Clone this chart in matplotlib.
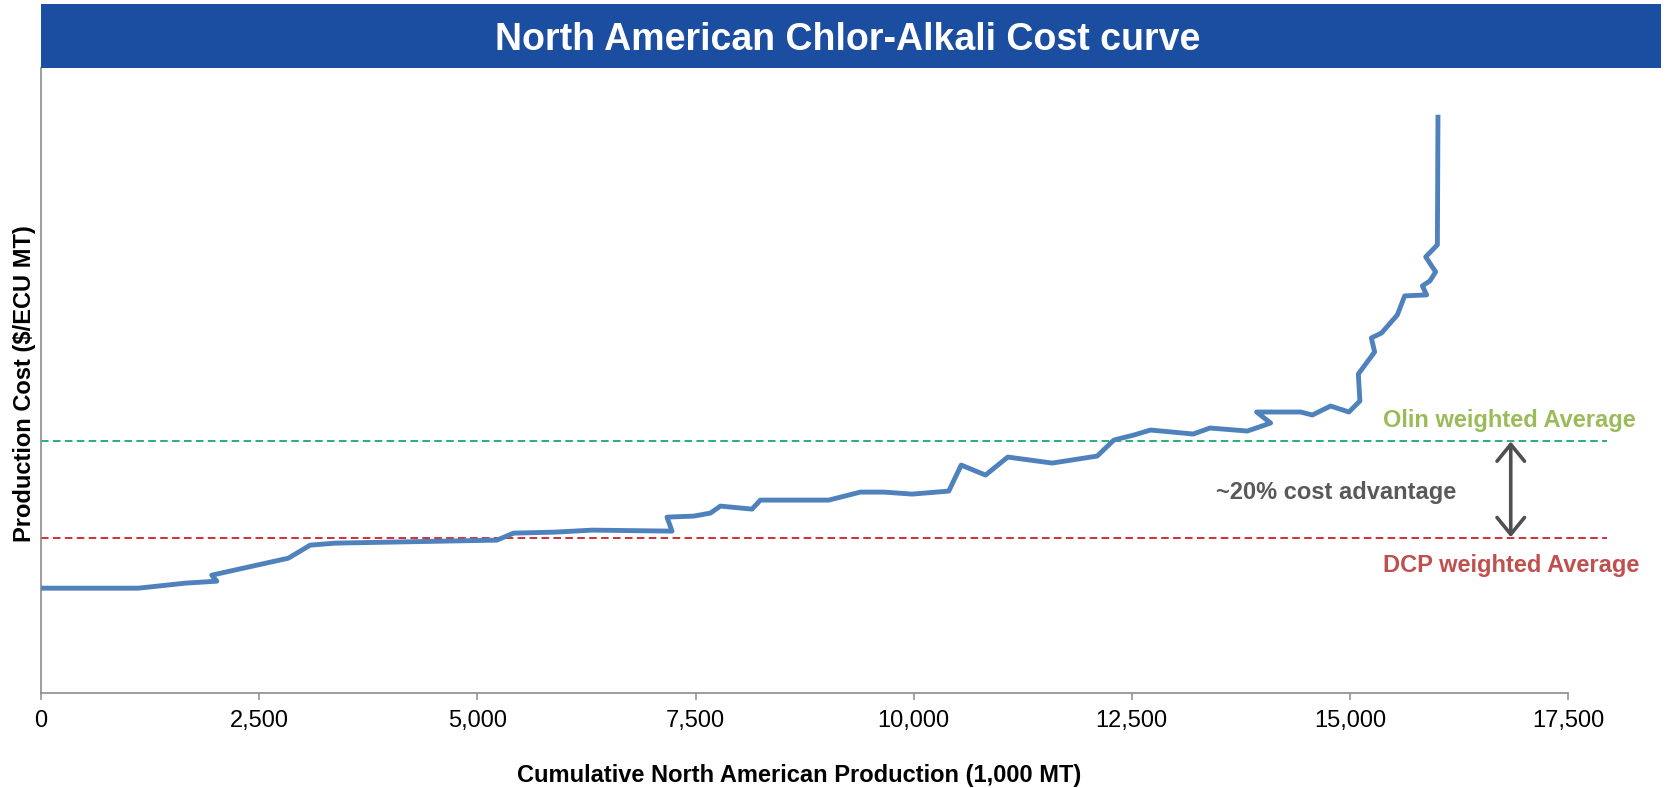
import matplotlib
matplotlib.use("Agg")
import matplotlib.pyplot as plt
from matplotlib.patches import Rectangle, FancyArrowPatch

plt.rcParams['font.family'] = ['Liberation Sans', 'DejaVu Sans']

# Cumulative capacity (1,000 MT) vs. cash cost, plant by plant
cum_production = [0, 1113, 1649, 2013, 1955, 2834, 3083, 3369, 5224, 5414,
                  5890, 6313, 7231, 7173, 7478, 7670, 7785, 8148, 8243, 9027,
                  9390, 9657, 9983, 10403, 10545, 10824, 11079, 11588, 12104, 12295,
                  12524, 12716, 13205, 13396, 13825, 14092, 13931, 14436, 14570, 14779,
                  14989, 15115, 15097, 15284, 15246, 15364, 15544, 15628, 15880, 15831,
                  15918, 15983, 15869, 16003, 16010]
prod_cost = [340, 340, 345, 347, 353, 370, 383, 385, 388, 395,
             396, 398, 397, 411, 412, 415, 422, 419, 428, 428,
             436, 436, 434, 437, 463, 453, 471, 465, 472, 488,
             493, 498, 494, 500, 497, 505, 516, 516, 513, 522,
             516, 527, 554, 576, 590, 595, 613, 632, 633, 642,
             647, 656, 671, 683, 813]

# weighted averages
olin_avg = 487.5
dcp_avg = 390

x_ticks = [0, 2500, 5000, 7500, 10000, 12500, 15000, 17500]
x_tick_labels = ["0", "2,500", "5,000", "7,500", "10,000", "12,500", "15,000", "17,500"]

fig = plt.figure(figsize=(16.67, 7.88), dpi=100)
ax = fig.add_axes([0.0247, 0.1202, 0.9159, 0.7939])

# title banner
fig.patches.append(Rectangle((0.0247, 0.9141), 0.9718, 0.0808, transform=fig.transFigure,
                             facecolor='#1B4DA0', edgecolor='none', zorder=0))
fig.text(0.5087, 0.9365, "North American Chlor-Alkali Cost curve", color='white',
         fontsize=27, fontweight='bold', ha='center', va='baseline')

ax.plot(cum_production, prod_cost, color='#4F81BD', lw=3.5,
        solid_joinstyle='round', solid_capstyle='butt', zorder=3)

line_end = 17950
ax.plot([0, line_end], [olin_avg, olin_avg], color='#18A870', lw=1.3,
        linestyle=(0, (4.2, 2.4)), clip_on=False, zorder=2)
ax.plot([0, line_end], [dcp_avg, dcp_avg], color='#CC2027', lw=1.3,
        linestyle=(0, (4.2, 2.4)), clip_on=False, zorder=2)

ax.text(15384, 501, "Olin weighted Average", color='#9BBB59', fontsize=17,
        fontweight='bold', ha='left', va='baseline', clip_on=False)
ax.text(15384, 356.6, "DCP weighted Average", color='#C0504D', fontsize=17,
        fontweight='bold', ha='left', va='baseline', clip_on=False)
ax.text(14837, 429, "~20% cost advantage", color='#595959', fontsize=17,
        fontweight='bold', ha='center', va='baseline', clip_on=False)

arrow = FancyArrowPatch((16844, dcp_avg + 1), (16844, olin_avg - 1),
                        arrowstyle='<->,head_length=0.55,head_width=0.45',
                        mutation_scale=22, color='#505050', lw=2.6,
                        shrinkA=0, shrinkB=0, clip_on=False, zorder=4)
ax.add_patch(arrow)

ax.set_xlim(0, 17500)
ax.set_ylim(235, 860)
ax.set_xticks(x_ticks)
ax.set_xticklabels(x_tick_labels, fontsize=17)
ax.set_yticks([])
ax.tick_params(axis='x', direction='out', length=5, width=1.1, color='#8C8C8C', pad=7)

for side in ['top', 'right']:
    ax.spines[side].set_visible(False)
for side in ['left', 'bottom']:
    ax.spines[side].set_color('#8C8C8C')
    ax.spines[side].set_linewidth(1.2)

fig.text(0.4793, 0.008, "Cumulative North American Production (1,000 MT)",
         fontsize=17, fontweight='bold', ha='center', va='baseline')
fig.text(0.0144, 0.5133, "Production Cost ($/ECU MT)", fontsize=17,
         fontweight='bold', rotation=90, ha='center', va='center')

fig.savefig("out.png", dpi=100)
